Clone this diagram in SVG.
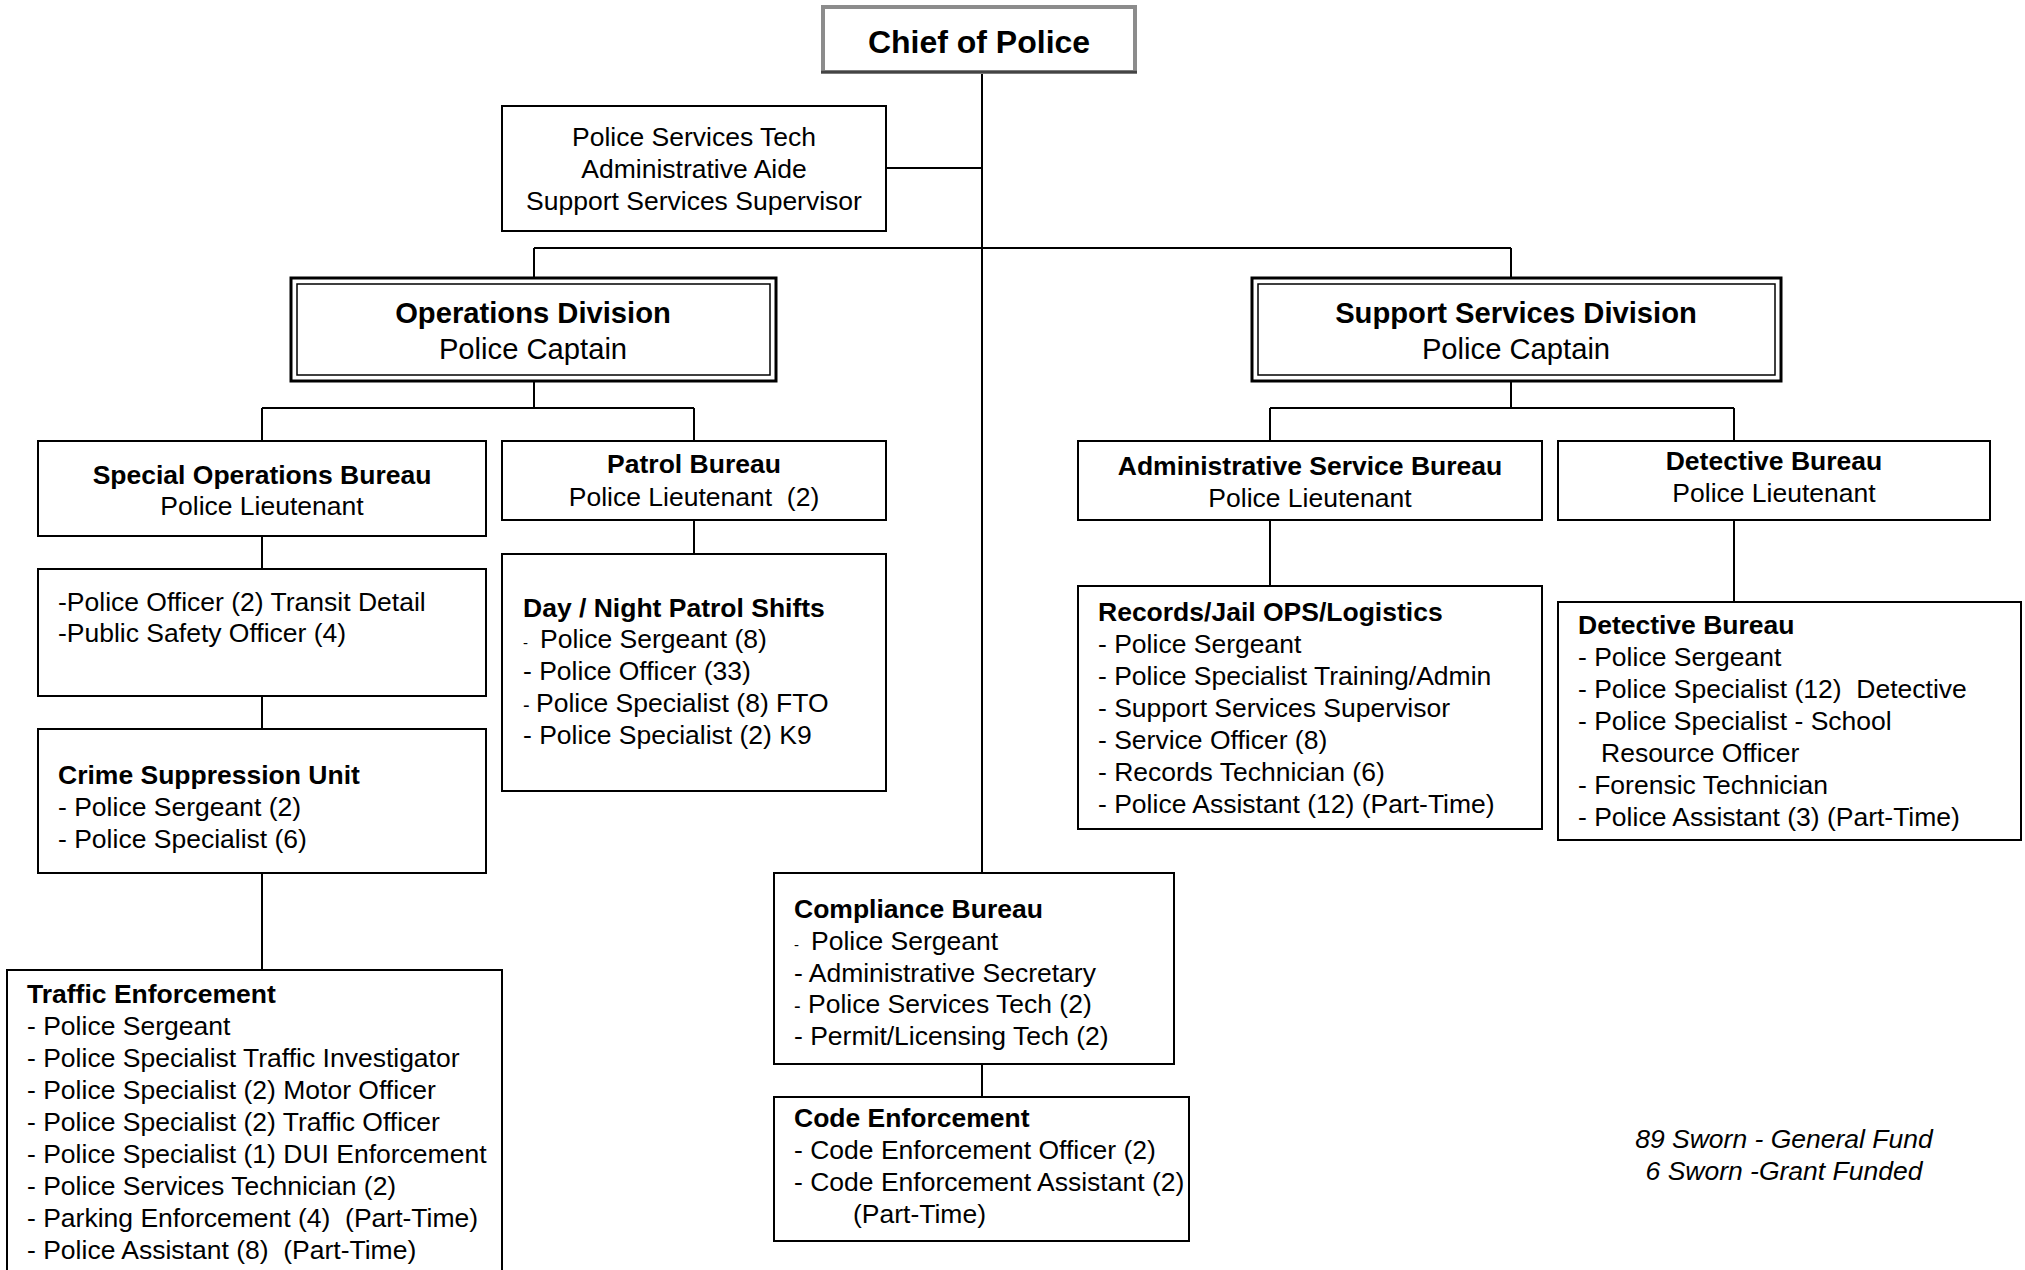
<svg xmlns="http://www.w3.org/2000/svg" width="2025" height="1270" viewBox="0 0 2025 1270">
<style>
.box{fill:#fff;stroke:#000;stroke-width:2}
.dbo{fill:#fff;stroke:#000;stroke-width:3}
.dbi{fill:none;stroke:#000;stroke-width:1.5}
text{font-family:"Liberation Sans",Arial,sans-serif;font-size:26.5px;fill:#000}
.b{font-weight:bold}
.c{text-anchor:middle}
.div{font-size:29.2px}
.sd{font-size:15px}
#connectors line{stroke:#000;stroke-width:2}
</style>
<rect width="2025" height="1270" fill="#fff"/>
<g id="connectors">
<line x1="982" y1="74" x2="982" y2="873"/>
<line x1="886" y1="168" x2="982" y2="168"/>
<line x1="534" y1="248" x2="1511" y2="248"/>
<line x1="534" y1="248" x2="534" y2="277"/>
<line x1="1511" y1="248" x2="1511" y2="277"/>
<line x1="534" y1="382" x2="534" y2="408"/>
<line x1="262" y1="408" x2="694" y2="408"/>
<line x1="262" y1="408" x2="262" y2="441"/>
<line x1="694" y1="408" x2="694" y2="441"/>
<line x1="1511" y1="382" x2="1511" y2="408"/>
<line x1="1270" y1="408" x2="1734" y2="408"/>
<line x1="1270" y1="408" x2="1270" y2="441"/>
<line x1="1734" y1="408" x2="1734" y2="441"/>
<line x1="262" y1="536" x2="262" y2="569"/>
<line x1="262" y1="696" x2="262" y2="729"/>
<line x1="262" y1="873" x2="262" y2="970"/>
<line x1="694" y1="520" x2="694" y2="554"/>
<line x1="1270" y1="520" x2="1270" y2="586"/>
<line x1="1734" y1="520" x2="1734" y2="602"/>
<line x1="982" y1="1065" x2="982" y2="1097"/>
</g>
<g id="chief">
<rect x="823" y="7" width="312" height="65" fill="#fff" stroke="#8c8c8c" stroke-width="4"/>
<line x1="821" y1="72" x2="1137" y2="72" stroke="#444" stroke-width="2.5"/>
<text class="b c" x="979" y="53" style="font-size:32px">Chief of Police</text>
</g>
<g id="staff">
<rect class="box" x="502" y="106" width="384" height="125"/>
<text class="c" x="694" y="146">Police Services Tech</text>
<text class="c" x="694" y="178">Administrative Aide</text>
<text class="c" x="694" y="210">Support Services Supervisor</text>
</g>
<g id="operations-division">
<rect class="dbo" x="291" y="278" width="485" height="103"/>
<rect class="dbi" x="297" y="284" width="473" height="91"/>
<text class="b c div" x="533" y="323">Operations Division</text>
<text class="c div" x="533" y="359">Police Captain</text>
</g>
<g id="support-division">
<rect class="dbo" x="1252" y="278" width="529" height="103"/>
<rect class="dbi" x="1258" y="284" width="517" height="91"/>
<text class="b c div" x="1516" y="323">Support Services Division</text>
<text class="c div" x="1516" y="359">Police Captain</text>
</g>
<g id="special-ops">
<rect class="box" x="38" y="441" width="448" height="95"/>
<text class="b c" x="262" y="484">Special Operations Bureau</text>
<text class="c" x="262" y="515">Police Lieutenant</text>
</g>
<g id="patrol">
<rect class="box" x="502" y="441" width="384" height="79"/>
<text class="b c" x="694" y="473">Patrol Bureau</text>
<text class="c" x="694" y="506" xml:space="preserve">Police Lieutenant  (2)</text>
</g>
<g id="admin-service">
<rect class="box" x="1078" y="441" width="464" height="79"/>
<text class="b c" x="1310" y="475">Administrative Service Bureau</text>
<text class="c" x="1310" y="507">Police Lieutenant</text>
</g>
<g id="detective">
<rect class="box" x="1558" y="441" width="432" height="79"/>
<text class="b c" x="1774" y="470">Detective Bureau</text>
<text class="c" x="1774" y="502">Police Lieutenant</text>
</g>
<g id="transit">
<rect class="box" x="38" y="569" width="448" height="127"/>
<text x="58" y="611">-Police Officer (2) Transit Detail</text>
<text x="58" y="642">-Public Safety Officer (4)</text>
</g>
<g id="crime-suppression">
<rect class="box" x="38" y="729" width="448" height="144"/>
<text class="b" x="58" y="784">Crime Suppression Unit</text>
<text x="58" y="816">- Police Sergeant (2)</text>
<text x="58" y="848">- Police Specialist (6)</text>
</g>
<g id="traffic">
<rect class="box" x="7" y="970" width="495" height="310"/>
<text class="b" x="27" y="1003">Traffic Enforcement</text>
<text x="27" y="1035">- Police Sergeant</text>
<text x="27" y="1067">- Police Specialist Traffic Investigator</text>
<text x="27" y="1099">- Police Specialist (2) Motor Officer</text>
<text x="27" y="1131">- Police Specialist (2) Traffic Officer</text>
<text x="27" y="1163">- Police Specialist (1) DUI Enforcement</text>
<text x="27" y="1195">- Police Services Technician (2)</text>
<text x="27" y="1227" xml:space="preserve">- Parking Enforcement (4)  (Part-Time)</text>
<text x="27" y="1259" xml:space="preserve">- Police Assistant (8)  (Part-Time)</text>
</g>
<g id="patrol-shifts">
<rect class="box" x="502" y="554" width="384" height="237"/>
<text class="b" x="523" y="617">Day / Night Patrol Shifts</text>
<text x="523" y="648"><tspan class="sd">-</tspan><tspan x="540">Police Sergeant (8)</tspan></text>
<text x="523" y="680">- Police Officer (33)</text>
<text x="523" y="712"><tspan style="font-size:20px">-</tspan><tspan x="536">Police Specialist (8) FTO</tspan></text>
<text x="523" y="744">- Police Specialist (2) K9</text>
</g>
<g id="records">
<rect class="box" x="1078" y="586" width="464" height="243"/>
<text class="b" x="1098" y="621">Records/Jail OPS/Logistics</text>
<text x="1098" y="653">- Police Sergeant</text>
<text x="1098" y="685">- Police Specialist Training/Admin</text>
<text x="1098" y="717">- Support Services Supervisor</text>
<text x="1098" y="749">- Service Officer (8)</text>
<text x="1098" y="781">- Records Technician (6)</text>
<text x="1098" y="813">- Police Assistant (12) (Part-Time)</text>
</g>
<g id="detective-unit">
<rect class="box" x="1558" y="602" width="463" height="238"/>
<text class="b" x="1578" y="634">Detective Bureau</text>
<text x="1578" y="666">- Police Sergeant</text>
<text x="1578" y="698" xml:space="preserve">- Police Specialist (12)  Detective</text>
<text x="1578" y="730">- Police Specialist - School</text>
<text x="1601" y="762">Resource Officer</text>
<text x="1578" y="794">- Forensic Technician</text>
<text x="1578" y="826">- Police Assistant (3) (Part-Time)</text>
</g>
<g id="compliance">
<rect class="box" x="774" y="873" width="400" height="191"/>
<text class="b" x="794" y="918">Compliance Bureau</text>
<text x="794" y="950"><tspan class="sd">-</tspan><tspan x="811">Police Sergeant</tspan></text>
<text x="794" y="982">- Administrative Secretary</text>
<text x="794" y="1013"><tspan style="font-size:20px">-</tspan><tspan x="808">Police Services Tech (2)</tspan></text>
<text x="794" y="1045">- Permit/Licensing Tech (2)</text>
</g>
<g id="code-enforcement">
<rect class="box" x="774" y="1097" width="415" height="144"/>
<text class="b" x="794" y="1127">Code Enforcement</text>
<text x="794" y="1159">- Code Enforcement Officer (2)</text>
<text x="794" y="1191">- Code Enforcement Assistant (2)</text>
<text x="853" y="1223">(Part-Time)</text>
</g>
<g id="footnote">
<text class="c" x="1784" y="1148" font-style="italic">89 Sworn - General Fund</text>
<text class="c" x="1784" y="1180" font-style="italic">6 Sworn -Grant Funded</text>
</g>
</svg>
